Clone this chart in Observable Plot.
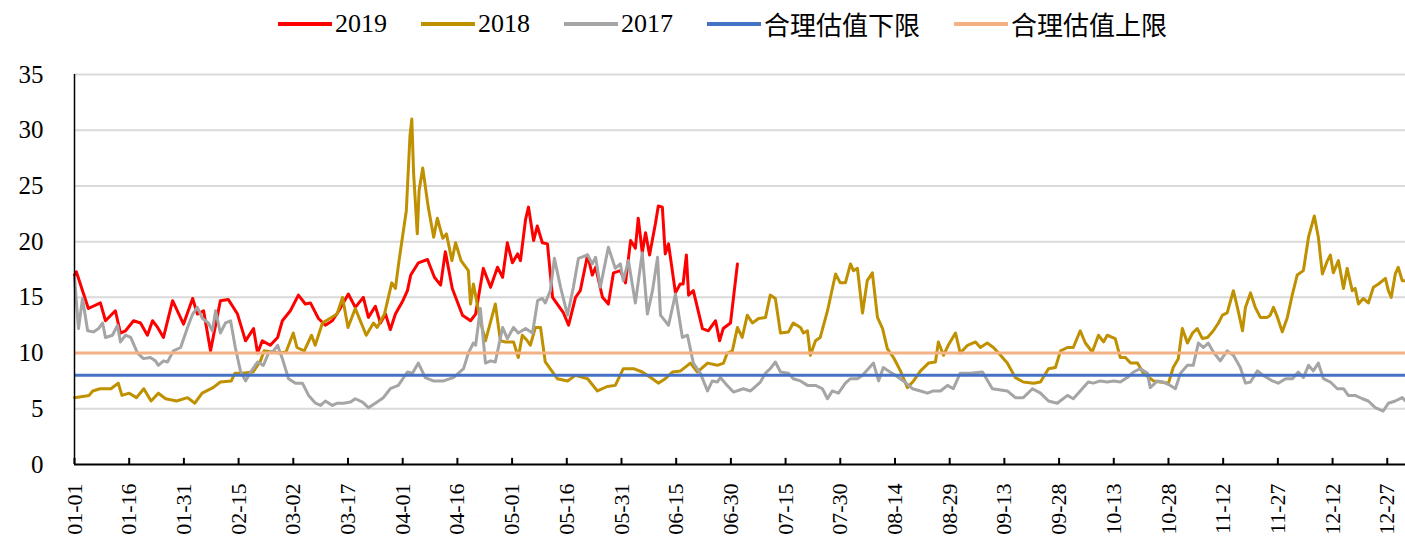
<!DOCTYPE html>
<html>
<head>
<meta charset="utf-8">
<script src="https://cdn.jsdelivr.net/npm/d3@7"></script>
<script src="https://cdn.jsdelivr.net/npm/@observablehq/plot@0.6"></script>
<style>
  html, body { margin: 0; padding: 0; background: #fff; }
  #legend { display: flex; justify-content: center; align-items: center; height: 50px; padding-left: 40px; padding-bottom: 3px;
            font-family: "Liberation Serif", "Noto Sans CJK SC", serif; font-size: 26px; color: #000; box-sizing: border-box; }
  .item { display: flex; align-items: center; margin: 0 17px; }
  .sw { width: 54px; height: 4px; margin-right: 3px; }
</style>
</head>
<body>
<div id="legend"></div>
<div id="chart"></div>
<script>
// ---- Data (day-of-year index, value) ----
const tickLabels = ["01-01","01-16","01-31","02-15","03-02","03-17","04-01","04-16","05-01","05-16","05-31","06-15","06-30","07-15","07-30","08-14","08-29","09-13","09-28","10-13","10-28","11-12","11-27","12-12","12-27"];
const yTicks = [0, 5, 10, 15, 20, 25, 30, 35];
const gridValues = [5, 10, 15, 20, 25, 30, 35];
const lowerBound = 8;   // 合理估值下限
const upperBound = 10;  // 合理估值上限

const seriesNames = ["2019", "2018", "2017", "合理估值下限", "合理估值上限"];
const seriesColors = ["#FF0000", "#BF9000", "#A5A5A5", "#4472C4", "#F4B183"];

const series2019 = [[0,17.0],[0.5,17.3],[3.8,14.0],[7.1,14.5],[8.5,12.9],[11.2,13.8],[12.6,11.8],[14,12.0],[16.2,12.9],[18.1,12.7],[20,11.6],[21.4,12.9],[22.8,12.3],[24.4,11.4],[26.9,14.7],[29.9,12.6],[32.4,14.9],[33.7,13.5],[35.4,13.8],[37.3,10.2],[40,14.7],[42.2,14.8],[44.7,13.5],[46.9,11.1],[49.1,12.2],[50.2,10.0],[51.5,11.1],[53.7,10.7],[55.7,11.4],[57,12.9],[59.2,13.8],[61.4,15.2],[63.3,14.4],[64.7,14.5],[66.9,13.1],[68.8,12.5],[70.7,12.9],[72.5,13.8],[75.1,15.3],[77,14.1],[79.2,15.0],[80.6,13.2],[82.5,14.2],[83.9,12.7],[85.3,13.5],[86.6,12.1],[88,13.5],[89.9,14.6],[91.3,15.6],[92.2,17.0],[94.3,18.1],[96.8,18.4],[98.7,16.8],[100.4,16.1],[101.7,19.1],[103.6,15.8],[106.4,13.4],[108.6,12.9],[110,13.5],[112.1,17.6],[114.1,15.9],[116,17.7],[117.4,16.8],[118.7,19.9],[120.1,18.1],[121.5,18.9],[122.3,18.3],[123.7,22.0],[124.5,23.1],[125.9,20.1],[126.9,21.4],[128.3,19.9],[129.7,19.8],[131.1,15.0],[132.4,14.4],[134.1,13.6],[135.5,12.5],[137.4,15.0],[138.7,15.6],[140.7,18.8],[142,17.0],[142.9,17.7],[144.8,15.0],[146.4,14.4],[147.8,17.2],[149.7,17.4],[151.1,16.3],[152.5,20.1],[153.8,19.4],[154.6,22.1],[155.7,19.0],[156.6,20.8],[157.7,18.8],[159.3,21.6],[160.1,23.2],[161.2,23.1],[162,18.9],[162.9,19.8],[164.8,15.4],[166.1,16.2],[166.9,16.2],[167.8,18.8],[168.4,15.2],[169.7,15.6],[172.2,12.2],[173.8,12.0],[175.8,12.9],[176.9,11.1],[177.9,12.2],[179.9,12.7],[181.8,18.0]];

const series2018 = [[0,6.0],[4,6.2],[5,6.6],[7,6.8],[10,6.8],[12,7.3],[13,6.2],[15,6.4],[17,6.0],[19,6.8],[21,5.7],[23,6.4],[25,5.9],[28,5.7],[31,6.0],[33,5.5],[35,6.4],[38,6.9],[40,7.4],[43,7.5],[44,8.2],[46,8.2],[49,8.3],[51,9.3],[52,10.2],[54,10.1],[56,10.0],[58,10.1],[60,11.8],[61,10.5],[63,10.2],[65,11.6],[66,10.7],[68,12.7],[70,13.1],[72,13.5],[73.5,15.0],[75,12.3],[77,14.0],[78,13.2],[80,11.6],[82,12.7],[83,12.3],[85,13.5],[87,16.3],[88,15.8],[89,18.3],[91,22.8],[92,29.5],[92.5,31.0],[93,26.1],[94,20.7],[94.5,24.6],[95.5,26.6],[97,23.1],[98.5,20.4],[99.5,22.1],[101,20.3],[102,20.7],[103.5,18.3],[104.5,19.9],[106,18.3],[108,17.4],[108.6,14.4],[109.4,16.2],[111.3,12.9],[112.7,11.1],[115.4,14.4],[116.8,11.1],[118.2,11.0],[120.4,11.0],[121.7,9.6],[122.8,11.6],[124.2,11.1],[125,10.7],[126.4,12.3],[127.8,12.3],[129.1,9.2],[132.4,7.7],[135.2,7.5],[137.4,8.0],[140.7,7.7],[143.4,6.6],[146.1,7.0],[148.3,7.1],[150.5,8.6],[153.3,8.6],[155.7,8.3],[158.5,7.7],[160.1,7.3],[162,7.7],[164,8.3],[166.2,8.4],[168.9,9.1],[170.8,8.3],[173.6,9.1],[176.3,8.9],[178,9.1],[179,10.0],[180.4,10.2],[181.8,12.3],[183.1,11.4],[184.5,13.4],[185.9,12.7],[187.6,13.1],[189.5,13.2],[190.8,15.2],[192.2,14.9],[193.6,11.8],[195.8,11.9],[197.1,12.7],[199.1,12.3],[199.9,11.8],[201,12.0],[201.8,9.8],[203.2,11.1],[204.5,11.4],[206.5,13.8],[208.7,17.1],[210,16.3],[211.4,16.3],[212.8,18.0],[213.6,17.4],[214.7,17.6],[216.1,13.6],[217.4,16.5],[218.8,17.2],[220.2,13.2],[221.6,12.2],[222.9,10.4],[224.6,9.6],[226.5,8.4],[228.4,6.9],[230.1,7.5],[232,8.4],[234.2,9.1],[236.1,9.2],[236.9,11.0],[238.3,9.8],[239.6,10.7],[241.6,11.8],[242.9,10.0],[244.9,10.7],[247.1,11.0],[248.4,10.5],[250.3,10.9],[252,10.5],[253.4,10.0],[255.8,9.1],[258,7.8],[260.2,7.4],[263,7.3],[264.9,7.4],[267.1,8.6],[269,8.7],[270.4,10.2],[272.3,10.5],[273.9,10.5],[275.8,12.0],[277.2,10.9],[279.1,10.1],[280.8,11.6],[282.2,11.0],[283.2,11.6],[285.4,11.3],[286.8,9.6],[288.2,9.6],[289.6,9.1],[291.5,9.1],[293.1,8.2],[295.9,7.5],[300,7.3],[301.3,8.7],[302.7,9.5],[303.8,12.2],[305.2,10.9],[306.6,11.8],[307.9,12.2],[309.3,11.3],[310.7,11.4],[312.3,12.0],[313.7,12.7],[314.8,13.4],[316.1,13.6],[317.8,15.6],[318.9,14.1],[320.3,12.0],[321.1,14.1],[322.5,15.4],[323.8,14.1],[325.2,13.2],[327.1,13.2],[327.9,13.4],[328.8,14.1],[329.9,13.2],[331.2,11.9],[332.6,13.2],[334,15.3],[335.3,17.0],[337,17.4],[338.4,20.4],[340,22.3],[341.1,20.4],[342.2,17.1],[343.6,18.3],[344.4,18.8],[345.2,17.2],[346.6,18.3],[348,15.8],[349,17.6],[350.4,15.6],[351.2,15.8],[352.1,14.4],[353.4,14.9],[354.8,14.5],[356.2,15.9],[357.6,16.2],[359.5,16.7],[360.3,15.6],[361.1,15.0],[362.2,17.1],[363,17.7],[364.1,16.5],[365,16.5]];

const series2017 = [[0,16.8],[1.1,12.2],[2.2,14.9],[3.6,12.0],[5.2,11.9],[6.6,12.2],[7.7,12.7],[8.5,11.4],[10.4,11.6],[11.8,12.5],[12.6,11.0],[14,11.6],[15.4,11.4],[17.3,10.0],[18.9,9.5],[20.8,9.6],[22.2,9.3],[23,8.9],[24.4,9.3],[25.5,9.2],[27.1,10.2],[29.1,10.5],[31,12.3],[32.4,13.5],[33.7,14.1],[35.1,13.1],[36.7,12.7],[37.8,12.0],[38.7,13.8],[40,11.8],[41.4,12.7],[42.8,12.9],[44.1,10.5],[45.5,8.4],[46.9,7.5],[48.3,8.3],[50.2,9.2],[51.8,8.9],[53.2,10.0],[54.6,10.2],[55.7,10.7],[57,9.5],[58.7,7.7],[60.6,7.3],[62.5,7.3],[64.2,6.2],[66.1,5.5],[67.5,5.3],[68.8,5.7],[70.7,5.3],[72.1,5.5],[73.8,5.5],[75.7,5.6],[77,5.9],[79,5.6],[80.6,5.1],[82.5,5.5],[84.7,6.0],[86.6,6.8],[88.8,7.1],[91.3,8.3],[92.7,8.2],[94.3,9.1],[96.2,7.8],[98.4,7.5],[101.2,7.5],[103.9,7.8],[106.7,8.6],[108,10.0],[109.4,10.9],[110,10.7],[111.3,14.0],[112.7,9.1],[114.1,9.3],[115.4,9.2],[117.4,12.3],[118.7,11.3],[120.4,12.3],[121.7,11.8],[123.7,12.2],[125.6,11.8],[127,14.7],[128.3,14.9],[129.1,14.5],[130.5,15.6],[131.6,18.5],[133.3,15.9],[135.2,13.4],[136.8,15.9],[138.2,18.5],[140.7,18.8],[142,18.0],[142.9,18.6],[144.2,15.9],[146.4,19.5],[148.3,17.6],[149.7,18.0],[150.5,16.5],[151.9,18.3],[153.8,14.5],[155.7,19.0],[157.1,13.5],[158.5,15.6],[159.9,18.6],[160.7,13.4],[162.9,12.5],[164.8,15.3],[166.7,11.4],[168.1,11.6],[169.7,9.1],[171.6,8.2],[173.6,6.6],[174.9,7.5],[176.3,7.4],[177.1,7.8],[179,7.1],[180.7,6.5],[183.4,6.8],[185.4,6.6],[188.1,7.4],[189.5,8.2],[190.8,8.6],[192.2,9.2],[193.6,8.3],[195.8,8.2],[197.1,7.7],[199.1,7.5],[201,7.1],[203.2,7.1],[205.1,6.8],[206.5,5.9],[207.8,6.6],[209.5,6.4],[211.4,7.3],[212.8,7.7],[214.7,7.7],[216.1,8.0],[217.7,8.6],[219.1,9.1],[220.5,7.5],[221.8,8.7],[223.2,8.4],[225.1,8.0],[227.3,7.5],[229.8,6.8],[232,6.6],[233.9,6.4],[235.5,6.6],[237.5,6.6],[239.4,7.1],[241,6.8],[242.9,8.2],[245.7,8.2],[249,8.3],[251.7,6.8],[255.8,6.6],[258,6.0],[260.2,6.0],[262.7,6.8],[264.9,6.4],[267.1,5.7],[269.5,5.5],[272.3,6.2],[273.9,5.9],[275.8,6.6],[278,7.4],[279.4,7.3],[281.3,7.5],[283.2,7.4],[284.9,7.5],[286.8,7.4],[288.7,7.8],[290.4,8.3],[292.3,8.6],[294.2,8.2],[295,6.9],[297,7.5],[298.6,7.4],[300.5,7.1],[301.9,6.8],[303.3,8.2],[305.2,8.9],[306.8,8.9],[308.2,10.9],[309.6,10.5],[310.9,10.9],[312.3,10.1],[314.2,9.3],[316.1,10.2],[317.8,9.8],[319.7,8.7],[321.1,7.3],[322.5,7.4],[324.4,8.4],[326,8.0],[328.5,7.5],[330.1,7.3],[332.1,7.7],[334,7.7],[335.6,8.3],[337,7.8],[338.4,8.9],[339.7,8.4],[341.1,9.1],[342.5,7.7],[344.4,7.4],[346.3,6.8],[348,6.8],[349.3,6.2],[351.2,6.2],[353.2,5.9],[354.8,5.7],[356.7,5.1],[358.9,4.8],[360.3,5.5],[362.2,5.7],[364.1,6.0],[365,5.7]];

// ---- Derived ----
const start = new Date(2019, 0, 1);
const tickDays = tickLabels.map(s => {
  const [m, d] = s.split("-").map(Number);
  return d3.timeDay.count(start, new Date(2019, m - 1, d));
});
const labelByDay = new Map(tickDays.map((d, i) => [d, tickLabels[i]]));

// ---- Legend ----
const legend = document.getElementById("legend");
seriesNames.forEach((name, i) => {
  const item = document.createElement("div");
  item.className = "item";
  const sw = document.createElement("span");
  sw.className = "sw";
  sw.style.background = seriesColors[i];
  const t = document.createElement("span");
  t.textContent = name;
  item.appendChild(sw);
  item.appendChild(t);
  legend.appendChild(item);
});

const lineOpts = (color) => ({x: d => d[0], y: d => d[1], stroke: color, strokeWidth: 3, strokeLinejoin: "round"});

const chart = Plot.plot({
  width: 1405,
  height: 489,
  marginLeft: 74,
  marginRight: 0,
  marginTop: 24,
  marginBottom: 75,
  x: {domain: [0, 365]},
  y: {domain: [0, 35]},
  style: {fontFamily: "'Liberation Serif', serif", color: "#000", background: "#fff"},
  marks: [
    Plot.gridY(gridValues, {stroke: "#D9D9D9", strokeOpacity: 1, strokeWidth: 2}),
    Plot.line(series2019, lineOpts(seriesColors[0])),
    Plot.line(series2018, lineOpts(seriesColors[1])),
    Plot.line(series2017, lineOpts(seriesColors[2])),
    Plot.ruleY([lowerBound], {stroke: seriesColors[3], strokeWidth: 3}),
    Plot.ruleY([upperBound], {stroke: seriesColors[4], strokeWidth: 3}),
    Plot.ruleY([0], {stroke: "#000", strokeWidth: 2}),
    Plot.ruleX([0], {stroke: "#000", strokeWidth: 1.5}),
    Plot.ruleX(tickDays, {y1: 0, y2: 0.55, stroke: "#000", strokeWidth: 2}),
    Plot.axisY({ticks: yTicks, tickSize: 0, tickPadding: 31, fontSize: 25, tickFormat: d => String(d)}),
    Plot.axisX({ticks: tickDays, tickFormat: d => labelByDay.get(d), tickRotate: -90, tickSize: 0, tickPadding: 19, fontSize: 22})
  ]
});
document.getElementById("chart").appendChild(chart);
</script>
</body>
</html>
